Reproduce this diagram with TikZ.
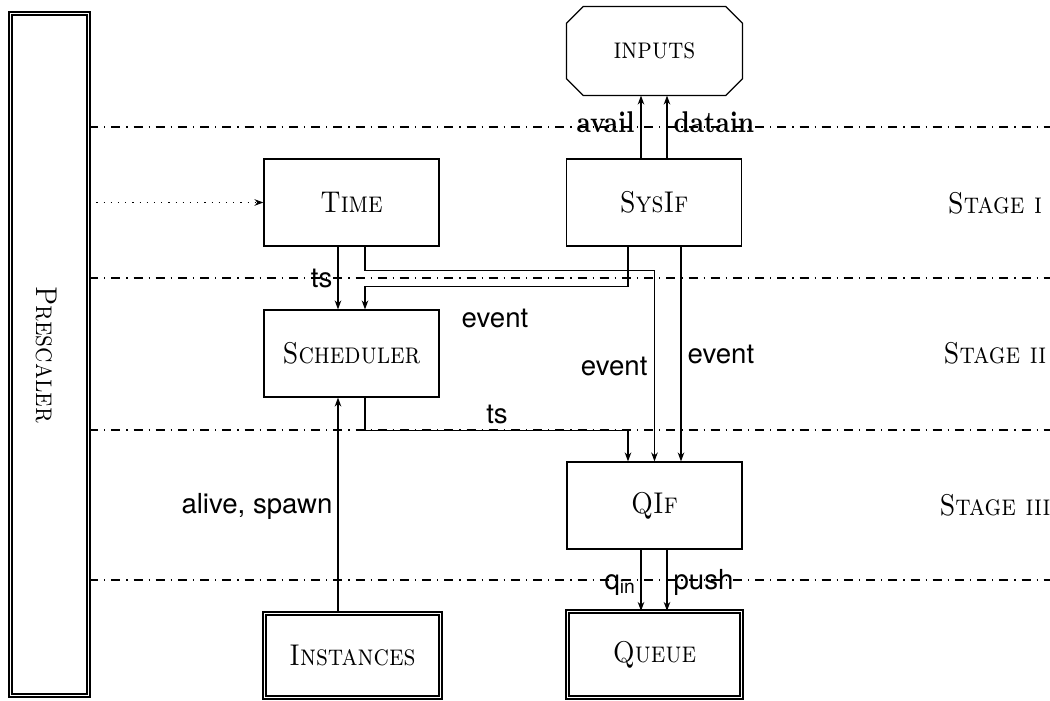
\documentclass[tikz,border=0pt]{standalone}
\usepackage{fontspec}
\usepackage{graphicx}
\setsansfont{TeX Gyre Heros}
\usetikzlibrary{calc,arrows.meta}
\newcommand\nsc[1]{\scalebox{0.87}[1]{\textsc{#1}}}
\newcommand\nbf[1]{\scalebox{0.85}[1]{\bfseries #1}}
\begin{document}
\begin{tikzpicture}[x={(0.33333pt,0)},y={(0,-0.33333pt)},
  line width=0.4pt,
  box/.style={draw, rectangle, minimum width=58.33pt, minimum height=29pt, inner sep=0pt},
  dbox/.style={draw, double, double distance=0.6pt, rectangle, inner sep=0pt},
  arr/.style={-{Stealth[length=3pt,width=2.2pt]}},
  lab/.style={font=\sffamily\fontsize{9.2}{11}\selectfont, inner sep=0pt},
  blab/.style={inner sep=0pt},
  stage/.style={inner sep=0pt},
  sepline/.style={dash dot}]
\useasboundingbox (0,0) rectangle (1050,701);

% Prescaler
\node[dbox, minimum width=26pt, minimum height=227.3pt] (pre) at (49.5,354.5) {};
\node[rotate=-90] (prel) at (47,354.5) {\nsc{Prescaler}};

% separator lines
\coordinate (l1) at (1050,127);
\coordinate (l2) at (1050,278);
\coordinate (l3) at (1050,430);
\coordinate (l4) at (1050,580);
\draw[sepline] (pre.east |- l1) -- (l1);
\draw[sepline] (pre.east |- l2) -- (l2);
\draw[sepline] (pre.east |- l3) -- (l3);
\draw[sepline] (pre.east |- l4) -- (l4);

% nodes
\node[draw=none, rectangle, minimum width=58.33pt, minimum height=29.33pt, inner sep=0pt] (inp) at (654.5,51) {\nsc{inputs}};
\draw ($(inp.north west)+(17,0)$) -- ($(inp.north east)+(-17,0)$) -- ($(inp.north east)+(0,17)$)
  -- ($(inp.south east)+(0,-17)$) -- ($(inp.south east)+(-17,0)$) -- ($(inp.south west)+(17,0)$)
  -- ($(inp.south west)+(0,-17)$) -- ($(inp.north west)+(0,17)$) -- cycle;

\node[box] (time) at (351.5,202.5) {\nsc{Time}};
\node[box] (sys) at (654,202.5) {\nsc{SysIf}};
\node[box] (sch) at (351.5,353.5) {\nsc{Scheduler}};
\node[box] (qif) at (654.5,505.5) {\nsc{QIf}};
\node[dbox, minimum width=58.67pt, minimum height=28pt] (inst) at (352.5,655.5) {\nsc{Instances}};
\node[dbox, minimum width=58pt, minimum height=28.67pt] (que) at (654.5,654.5) {\nsc{Queue}};

% stage labels
\node[stage, anchor=base] (s1) at (995,213) {\nsc{Stage i}};
\node[stage, anchor=base] (s2) at (995,363) {\nsc{Stage ii}};
\node[stage, anchor=base] (s3) at (995,515) {\nsc{Stage iii}};

% connectors
\draw[dotted, arr] (pre.east |- time.west) -- (time.west);

\coordinate (a1) at ($(sys.north)+(-13,0)$);
\coordinate (a2) at ($(sys.north)+(13,0)$);
\draw[arr] (a1) -- (a1 |- inp.south);
\draw[arr] (a2) -- (a2 |- inp.south);
\node[blab, anchor=base east] (availl) at (635,132) {\nbf{avail}};
\node[blab, anchor=base west] (datainl) at (673,132) {\nbf{datain}};

\coordinate (t1) at ($(time.south)+(-13.5,0)$);
\coordinate (t2) at ($(time.south)+(13.5,0)$);
\coordinate (c1) at ($(sch.north)+(-13.5,0)$);
\coordinate (c2) at ($(sch.north)+(13.5,0)$);
\draw[arr] (t1) -- (t1 |- sch.north);
\node[lab, anchor=base east] (tsl1) at (333,287) {ts};

\draw[arr] (t2) -- ++(0,24) -| (qif.north);
\node[lab, anchor=base east] (evl2) at (648,375) {event};

\coordinate (y1) at ($(sys.south)+(-26,0)$);
\coordinate (y2) at ($(sys.south)+(27,0)$);
\draw[arr] (y1) -- ++(0,40) -| (c2);
\node[lab, anchor=base] (evl1) at (495,327) {event};

\draw[arr] (y2) -- (y2 |- qif.north);
\node[lab, anchor=base west] (evl3) at (687,363) {event};

\coordinate (d1) at ($(sch.south)+(13.5,0)$);
\coordinate (d0) at ($(sch.south)+(-13.5,0)$);
\coordinate (q0) at ($(qif.north)+(-26.5,0)$);
\draw[arr] (d1) -- ++(0,33) -| (q0);
\node[lab, anchor=base] (tsl2) at (497,423) {ts};

\draw[arr] (inst.north -| d0) -- (d0);
\node[lab, anchor=base east] (alivel) at (333,513) {alive, spawn};

\coordinate (b1) at ($(qif.south)+(-13.5,0)$);
\coordinate (b2) at ($(qif.south)+(12.5,0)$);
\draw[arr] (b1) -- (b1 |- que.north);
\draw[arr] (b2) -- (b2 |- que.north);
\node[lab, anchor=base east] (qinl) at (637,589) {q\textsubscript{in}};
\node[lab, anchor=base west] (pushl) at (673,589) {push};
\end{tikzpicture}
\end{document}
